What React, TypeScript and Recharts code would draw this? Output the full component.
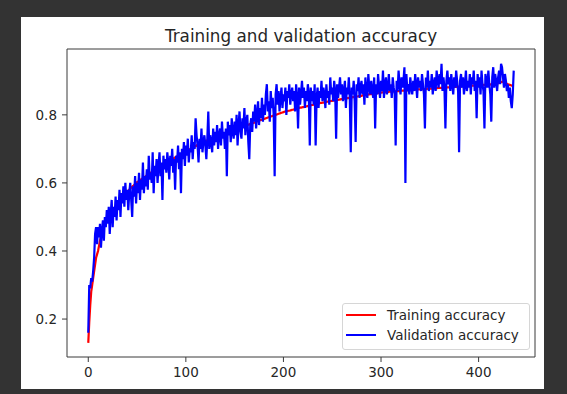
import { LineChart, Line, XAxis, YAxis, Legend, ReferenceArea } from "recharts";

// training accuracy per epoch (red)
const trainAcc = [
  0.13, 0.19, 0.24, 0.28, 0.30, 0.32, 0.34, 0.36, 0.38, 0.39,
  0.40, 0.415, 0.43, 0.44, 0.455, 0.47, 0.48, 0.485, 0.49, 0.495,
  0.50, 0.503, 0.508, 0.512, 0.515, 0.52, 0.524, 0.527, 0.531, 0.535,
  0.538, 0.541, 0.545, 0.548, 0.551, 0.555, 0.558, 0.562, 0.566, 0.570,
  0.574, 0.577, 0.580, 0.583, 0.586, 0.589, 0.591, 0.594, 0.597, 0.600,
  0.602, 0.604, 0.606, 0.608, 0.610, 0.612, 0.614, 0.616, 0.618, 0.620,
  0.622, 0.624, 0.626, 0.628, 0.630, 0.632, 0.634, 0.636, 0.638, 0.640,
  0.641, 0.642, 0.643, 0.645, 0.647, 0.649, 0.651, 0.652, 0.654, 0.656,
  0.658, 0.660, 0.662, 0.664, 0.666, 0.667, 0.669, 0.671, 0.673, 0.675,
  0.677, 0.678, 0.679, 0.681, 0.682, 0.684, 0.686, 0.687, 0.689, 0.691,
  0.692, 0.694, 0.695, 0.697, 0.699, 0.700, 0.702, 0.703, 0.705, 0.707,
  0.708, 0.710, 0.712, 0.713, 0.715, 0.717, 0.718, 0.720, 0.721, 0.722,
  0.723, 0.724, 0.725, 0.726, 0.727, 0.728, 0.729, 0.730, 0.731, 0.732,
  0.733, 0.734, 0.735, 0.736, 0.737, 0.738, 0.739, 0.740, 0.742, 0.743,
  0.745, 0.746, 0.747, 0.748, 0.749, 0.751, 0.752, 0.753, 0.754, 0.755,
  0.757, 0.758, 0.759, 0.760, 0.761, 0.762, 0.763, 0.764, 0.765, 0.766,
  0.767, 0.768, 0.769, 0.770, 0.771, 0.772, 0.773, 0.774, 0.775, 0.776,
  0.777, 0.778, 0.780, 0.781, 0.782, 0.783, 0.784, 0.785, 0.786, 0.787,
  0.788, 0.789, 0.790, 0.791, 0.792, 0.793, 0.794, 0.795, 0.796, 0.797,
  0.798, 0.799, 0.800, 0.801, 0.802, 0.803, 0.804, 0.805, 0.806, 0.807,
  0.808, 0.809, 0.810, 0.810, 0.811, 0.812, 0.812, 0.813, 0.814, 0.815,
  0.815, 0.816, 0.817, 0.818, 0.818, 0.819, 0.820, 0.821, 0.821, 0.822,
  0.823, 0.823, 0.824, 0.825, 0.825, 0.826, 0.827, 0.827, 0.828, 0.829,
  0.829, 0.830, 0.831, 0.831, 0.832, 0.833, 0.833, 0.834, 0.835, 0.835,
  0.836, 0.836, 0.837, 0.838, 0.838, 0.839, 0.839, 0.840, 0.840, 0.841,
  0.841, 0.842, 0.842, 0.843, 0.843, 0.844, 0.844, 0.845, 0.845, 0.846,
  0.846, 0.847, 0.847, 0.848, 0.848, 0.849, 0.849, 0.850, 0.850, 0.851,
  0.851, 0.852, 0.852, 0.853, 0.853, 0.854, 0.854, 0.855, 0.855, 0.856,
  0.856, 0.857, 0.857, 0.858, 0.858, 0.859, 0.859, 0.860, 0.860, 0.861,
  0.861, 0.862, 0.862, 0.863, 0.863, 0.864, 0.864, 0.864, 0.865, 0.865,
  0.865, 0.866, 0.866, 0.866, 0.867, 0.867, 0.867, 0.867, 0.868, 0.868,
  0.868, 0.868, 0.869, 0.869, 0.869, 0.869, 0.870, 0.870, 0.870, 0.870,
  0.871, 0.871, 0.871, 0.871, 0.872, 0.872, 0.872, 0.872, 0.873, 0.873,
  0.873, 0.873, 0.873, 0.874, 0.874, 0.874, 0.874, 0.874, 0.875, 0.875,
  0.875, 0.875, 0.875, 0.876, 0.876, 0.876, 0.876, 0.876, 0.877, 0.877,
  0.877, 0.877, 0.877, 0.878, 0.878, 0.878, 0.878, 0.878, 0.879, 0.879,
  0.879, 0.879, 0.879, 0.880, 0.880, 0.880, 0.880, 0.880, 0.881, 0.881,
  0.881, 0.881, 0.881, 0.882, 0.882, 0.882, 0.882, 0.882, 0.883, 0.883,
  0.883, 0.883, 0.883, 0.884, 0.884, 0.884, 0.884, 0.884, 0.885, 0.885,
  0.885, 0.885, 0.885, 0.886, 0.886, 0.886, 0.886, 0.886, 0.887, 0.887,
  0.887, 0.887, 0.887, 0.888, 0.888, 0.888, 0.888, 0.888, 0.889, 0.889,
  0.889, 0.889, 0.889, 0.890, 0.890, 0.890, 0.890, 0.891, 0.891, 0.892,
  0.893, 0.894, 0.895, 0.896, 0.897, 0.898, 0.897, 0.895, 0.893, 0.891,
  0.890, 0.889, 0.888, 0.887, 0.886, 0.886, 0.885,
];

// validation accuracy per epoch (blue)
const valAcc = [
  0.16, 0.30, 0.29, 0.32, 0.31, 0.34, 0.38, 0.45, 0.47, 0.42,
  0.47, 0.44, 0.48, 0.41, 0.46, 0.49, 0.43, 0.50, 0.47, 0.52,
  0.48, 0.53, 0.45, 0.51, 0.55, 0.47, 0.53, 0.50, 0.56, 0.49,
  0.55, 0.52, 0.58, 0.50, 0.57, 0.54, 0.59, 0.53, 0.60, 0.55,
  0.58, 0.52, 0.57, 0.60, 0.55, 0.50, 0.59, 0.56, 0.62, 0.54,
  0.60, 0.57, 0.63, 0.55, 0.61, 0.58, 0.66, 0.57, 0.62, 0.59,
  0.64, 0.58, 0.68, 0.61, 0.63, 0.60, 0.69, 0.57, 0.65, 0.62,
  0.67, 0.60, 0.65, 0.69, 0.62, 0.66, 0.55, 0.68, 0.64, 0.67,
  0.63, 0.69, 0.66, 0.61, 0.68, 0.65, 0.70, 0.63, 0.67, 0.58,
  0.68, 0.66, 0.71, 0.64, 0.69, 0.57, 0.70, 0.67, 0.72, 0.65,
  0.71, 0.68, 0.73, 0.66, 0.70, 0.69, 0.74, 0.67, 0.72, 0.70,
  0.79, 0.74, 0.71, 0.66, 0.73, 0.70, 0.76, 0.69, 0.72, 0.74,
  0.71, 0.67, 0.73, 0.81, 0.70, 0.74, 0.72, 0.69, 0.76, 0.71,
  0.75, 0.72, 0.77, 0.70, 0.74, 0.76, 0.71, 0.78, 0.73, 0.75,
  0.70, 0.76, 0.62, 0.78, 0.74, 0.77, 0.72, 0.79, 0.75, 0.73,
  0.78, 0.74, 0.80, 0.71, 0.77, 0.81, 0.75, 0.73, 0.79, 0.76,
  0.82, 0.74, 0.78, 0.80, 0.72, 0.67, 0.77, 0.79, 0.75, 0.81,
  0.78, 0.83, 0.76, 0.80, 0.84, 0.77, 0.82, 0.79, 0.85, 0.78,
  0.83, 0.80, 0.86, 0.89, 0.81, 0.84, 0.78, 0.87, 0.82, 0.85,
  0.80, 0.62, 0.86, 0.89, 0.83, 0.87, 0.81, 0.85, 0.88, 0.82,
  0.86, 0.84, 0.88, 0.80, 0.87, 0.85, 0.89, 0.83, 0.86, 0.88,
  0.84, 0.87, 0.81, 0.89, 0.85, 0.76, 0.88, 0.83, 0.86, 0.90,
  0.85, 0.88, 0.82, 0.87, 0.84, 0.89, 0.86, 0.71, 0.88, 0.84,
  0.87, 0.83, 0.89, 0.71, 0.85, 0.88, 0.82, 0.87, 0.85, 0.90,
  0.84, 0.88, 0.86, 0.82, 0.89, 0.85, 0.87, 0.83, 0.91, 0.86,
  0.88, 0.84, 0.90, 0.87, 0.73, 0.89, 0.85, 0.88, 0.91, 0.86,
  0.89, 0.84, 0.87, 0.90, 0.82, 0.88, 0.86, 0.91, 0.85, 0.69,
  0.88, 0.86, 0.90, 0.84, 0.72, 0.89, 0.87, 0.91, 0.85, 0.88,
  0.90, 0.86, 0.89, 0.83, 0.91, 0.87, 0.85, 0.92, 0.88, 0.86,
  0.90, 0.87, 0.85, 0.91, 0.76, 0.89, 0.86, 0.92, 0.88, 0.85,
  0.90, 0.87, 0.93, 0.85, 0.89, 0.91, 0.86, 0.88, 0.92, 0.87,
  0.89, 0.85, 0.91, 0.88, 0.86, 0.71, 0.90, 0.87, 0.93, 0.89,
  0.86, 0.91, 0.88, 0.90, 0.94, 0.60, 0.92, 0.87, 0.89, 0.86,
  0.91, 0.88, 0.86, 0.90, 0.87, 0.92, 0.89, 0.85, 0.91, 0.88,
  0.90, 0.87, 0.92, 0.89, 0.86, 0.76, 0.91, 0.88, 0.93, 0.87,
  0.90, 0.88, 0.92, 0.86, 0.89, 0.91, 0.87, 0.93, 0.90, 0.88,
  0.92, 0.89, 0.95, 0.87, 0.91, 0.88, 0.76, 0.90, 0.93, 0.89,
  0.91, 0.87, 0.92, 0.89, 0.86, 0.91, 0.88, 0.93, 0.90, 0.87,
  0.69, 0.90, 0.92, 0.88, 0.91, 0.86, 0.89, 0.93, 0.87, 0.90,
  0.88, 0.92, 0.86, 0.91, 0.89, 0.93, 0.87, 0.90, 0.79, 0.92,
  0.88, 0.91, 0.86, 0.93, 0.89, 0.87, 0.76, 0.92, 0.90, 0.88,
  0.93, 0.89, 0.86, 0.78, 0.91, 0.94, 0.88, 0.92, 0.90, 0.87,
  0.91, 0.93, 0.89, 0.95, 0.94, 0.91, 0.88, 0.92, 0.90, 0.87,
  0.89, 0.85, 0.88, 0.84, 0.82, 0.86, 0.93,
];

const xTicks = [0, 100, 200, 300, 400];
const yTicks = [0.2, 0.4, 0.6, 0.8];
const xDomain: [number, number] = [-21.8, 457.8];
const yDomain: [number, number] = [0.0885, 0.9935];

const chartData = trainAcc.map((v, i) => ({ epoch: i, train: v, val: valAcc[i] }));

const FONT = "'DejaVu Sans', sans-serif";
const tickStyle = { fontSize: 13.5, fill: "#262626", fontFamily: FONT };
const SPINE = "#3a3a3a";

function LegendBox() {
  const items = [
    { label: "Training accuracy", color: "#ff0000" },
    { label: "Validation accuracy", color: "#0000ff" },
  ];
  return (
    <div
      style={{
        width: 188,
        height: 47,
        boxSizing: "border-box",
        border: "1px solid #d6d6d6",
        borderRadius: 3,
        background: "#fff",
        fontFamily: FONT,
        fontSize: 13.5,
        color: "#262626",
        paddingTop: 1,
      }}
    >
      {items.map((it) => (
        <div key={it.label} style={{ display: "flex", alignItems: "center", height: 20 }}>
          <svg width={44} height={20} style={{ flex: "none" }}>
            <line x1={3} x2={33} y1={10} y2={10} stroke={it.color} strokeWidth={2} />
          </svg>
          <span style={{ whiteSpace: "nowrap" }}>{it.label}</span>
        </div>
      ))}
    </div>
  );
}

export default function App() {
  return (
    <div style={{ position: "absolute", left: 0, top: 0, width: 567, height: 394, background: "#333333" }}>
      <div style={{ position: "absolute", left: 21, top: 17, width: 523, height: 372, background: "#ffffff" }}>
        <div
          style={{
            position: "absolute",
            left: 46,
            width: 468,
            top: 11,
            textAlign: "center",
            fontFamily: FONT,
            fontSize: 16.8,
            lineHeight: "17px",
            color: "#262626",
            whiteSpace: "nowrap",
          }}
        >
          Training and validation accuracy
        </div>
        <LineChart
          width={523}
          height={372}
          data={chartData}
          margin={{ top: 32, right: 9, bottom: 0, left: 0 }}
        >
          <XAxis
            dataKey="epoch"
            type="number"
            domain={xDomain}
            ticks={xTicks}
            allowDataOverflow
            height={32}
            tick={tickStyle}
            tickSize={5}
            tickMargin={5}
            axisLine={false}
            tickLine={{ stroke: SPINE }}
          />
          <YAxis
            type="number"
            domain={yDomain}
            ticks={yTicks}
            allowDataOverflow
            width={46}
            tick={tickStyle}
            tickSize={5}
            tickMargin={5}
            tickFormatter={(v: number) => v.toFixed(1)}
            axisLine={false}
            tickLine={{ stroke: SPINE }}
          />
          <ReferenceArea
            x1={xDomain[0]}
            x2={xDomain[1]}
            y1={yDomain[0]}
            y2={yDomain[1]}
            fill="none"
            fillOpacity={0}
            stroke={SPINE}
            strokeWidth={1}
            ifOverflow="extendDomain"
          />
          <Legend
            layout="vertical"
            align="center"
            verticalAlign="middle"
            wrapperStyle={{ left: 321, top: 286, width: 188, height: 47 }}
            content={() => <LegendBox />}
          />
          <Line
            type="linear"
            dataKey="train"
            name="Training accuracy"
            stroke="#ff0000"
            strokeWidth={2.2}
            dot={false}
            isAnimationActive={false}
          />
          <Line
            type="linear"
            dataKey="val"
            name="Validation accuracy"
            stroke="#0000ff"
            strokeWidth={2.2}
            dot={false}
            isAnimationActive={false}
          />
        </LineChart>
      </div>
    </div>
  );
}
